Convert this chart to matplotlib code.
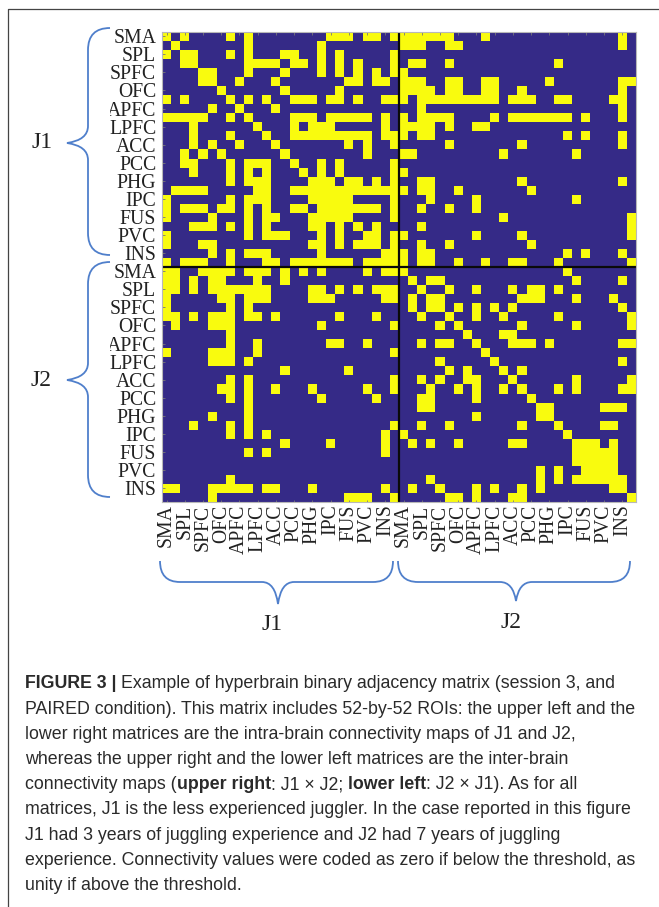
import matplotlib
matplotlib.use("Agg")
import matplotlib.pyplot as plt
import numpy as np
from matplotlib.colors import ListedColormap
from matplotlib.path import Path
from matplotlib.patches import PathPatch, Rectangle

rois = ["SMA", "SPL", "SPFC", "OFC", "APFC", "LPFC", "ACC", "PCC", "PHG", "IPC", "FUS", "PVC", "INS"]

# columns that are 1 in each row, one list per block
j1_j1 = [
    [0, 2, 7, 9, 18, 19, 20, 22, 23, 25],
    [1, 9, 17],
    [0, 2, 3, 7, 9, 13, 14, 17, 19, 25],
    [2, 3, 9, 10, 11, 12, 14, 15, 17, 19, 21, 25],
    [4, 5, 9, 13, 17, 19, 21, 23, 25],
    [4, 5, 8, 12, 20, 21, 23, 24],
    [6, 13, 19],
    [0, 2, 7, 9, 11, 14, 15, 16, 18, 19, 21, 24, 25],
    [5, 8, 12],
    [0, 1, 2, 3, 4, 7, 9, 14, 15, 16, 18, 19, 20, 21, 22, 24],
    [3, 10, 14, 16, 17, 18, 24],
    [3, 7, 11, 14, 15, 16, 17, 18, 19, 20, 21, 22, 24, 25],
    [3, 5, 8, 12, 20, 22, 25],
    [2, 4, 6, 13, 22],
    [2, 3, 7, 9, 10, 11, 14, 17, 19, 25],
    [3, 7, 9, 11, 15, 17, 19, 25],
    [7, 9, 10, 11, 16, 17, 18, 20, 21, 23, 25],
    [1, 2, 3, 4, 10, 11, 14, 15, 16, 17, 18, 19, 20, 21, 22, 23, 24, 25],
    [0, 7, 9, 10, 11, 16, 17, 18, 19, 20, 25],
    [0, 2, 3, 4, 6, 7, 9, 11, 14, 15, 17, 18, 19, 20, 21, 22, 23, 25],
    [0, 5, 9, 11, 12, 16, 17, 18, 19, 20, 25],
    [3, 4, 5, 7, 9, 11, 16, 17, 19, 21, 23],
    [0, 9, 11, 12, 13, 17, 19, 22, 23, 25],
    [0, 4, 5, 16, 17, 19, 21, 22, 23, 25],
    [5, 7, 9, 10, 11, 17, 24, 25],
    [0, 2, 3, 4, 7, 11, 12, 14, 15, 16, 17, 18, 19, 20, 22, 23, 24, 25],
]
j1_j2 = [
    [0, 1, 2, 3, 4, 5, 9, 24],
    [0, 1, 2, 5, 6, 24],
    [],
    [1, 2, 5, 17],
    [0],
    [0, 1, 2, 5, 6, 9, 10, 16, 24, 25],
    [0, 1, 2, 3, 5, 6, 9, 10, 13, 24],
    [0, 2, 3, 4, 5, 6, 7, 8, 9, 10, 12, 13, 14, 17, 18, 23, 24],
    [2, 24],
    [0, 2, 3, 4, 5, 10, 12, 13, 14, 15, 16, 17, 18, 20, 24],
    [0, 1, 2, 3, 5, 8, 9],
    [0, 2, 3, 18, 20, 24],
    [5, 13, 24],
    [0, 1, 11, 19],
    [],
    [0],
    [2, 3, 13, 24],
    [0, 2, 3, 6, 14],
    [3, 8, 19],
    [2, 5, 8],
    [11, 25],
    [2, 25],
    [0, 8, 13, 25],
    [2, 5, 14],
    [0, 2, 3, 18, 20, 24],
    [0, 2, 3, 6, 9, 12, 13, 17, 25],
]
j2_j1 = [
    [0, 1, 4, 5, 6, 7, 9, 10, 11, 13, 15, 17, 22, 24, 25],
    [0, 1, 3, 5, 6, 10, 13],
    [0, 1, 3, 5, 6, 7, 8, 9, 10, 11, 16, 17, 19, 21, 23, 24, 25],
    [0, 6, 7, 9, 10, 11, 16, 17, 18, 24, 25],
    [0, 7, 9],
    [0, 1, 3, 5, 6, 7, 9, 10, 12, 19, 23],
    [1, 5, 6, 7, 17, 25],
    [7],
    [7, 10, 18, 19, 22],
    [0, 5, 6, 7, 10, 25],
    [5, 6, 7, 9],
    [13, 20],
    [7, 9, 25],
    [6, 7, 9, 12, 16, 22, 25],
    [7, 9, 17, 23],
    [9],
    [5, 9],
    [3, 7, 9, 25],
    [7, 9, 11, 24],
    [13, 18, 24],
    [9, 11, 24],
    [],
    [],
    [7],
    [0, 1, 5, 6, 7, 8, 9, 11, 12, 16, 24],
    [5, 20, 21, 22, 25],
]
j2_j2 = [
    [0, 18],
    [1, 3, 4, 19, 24],
    [2, 5, 8, 12, 14, 15, 17],
    [1, 3, 4, 13, 14, 15, 19, 23],
    [1, 3, 4, 6, 8, 10, 12, 24],
    [2, 5, 8, 11, 17, 25],
    [4, 6, 13, 19, 25],
    [7, 11, 12],
    [2, 4, 5, 8, 12, 13, 14, 16, 24, 25],
    [9],
    [4, 10, 24],
    [5, 7, 11, 13],
    [2, 4, 7, 8, 12, 19, 25],
    [3, 6, 8, 11, 13, 17, 19, 24, 25],
    [2, 3, 8, 14],
    [2, 3, 15, 16, 22, 23, 24],
    [8, 15, 16],
    [2, 5, 13, 17, 22, 23],
    [0, 18],
    [1, 3, 6, 12, 13, 19, 20, 21, 23],
    [19, 20, 21, 22, 23],
    [19, 20, 21, 22, 23],
    [15, 17, 20, 21, 22, 23],
    [3, 15, 17, 19, 20, 21, 22, 23, 24],
    [1, 4, 8, 10, 13, 15, 23, 24],
    [5, 6, 8, 12, 13, 25],
]

caption = [
    [("FIGURE 3 | ", True), ("Example of hyperbrain binary adjacency matrix (session 3, and", False)],
    [("PAIRED condition). This matrix includes 52-by-52 ROIs: the upper left and the", False)],
    [("lower right matrices are the intra-brain connectivity maps of J1 and J2,", False)],
    [("whereas the upper right and the lower left matrices are the inter-brain", False)],
    [("connectivity maps (", False), ("upper right", True), (": J1 × J2; ", False), ("lower left", True),
     (": J2 × J1). As for all", False)],
    [("matrices, J1 is the less experienced juggler. In the case reported in this figure", False)],
    [("J1 had 3 years of juggling experience and J2 had 7 years of juggling", False)],
    [("experience. Connectivity values were coded as zero if below the threshold, as", False)],
    [("unity if above the threshold.", False)],
]

n = 26
mat = np.zeros((2 * n, 2 * n))
for off_r, off_c, block in [(0, 0, j1_j1), (0, n, j1_j2), (n, 0, j2_j1), (n, n, j2_j2)]:
    for r, cols in enumerate(block):
        for c in cols:
            mat[off_r + r, off_c + c] = 1

W, H = 659, 907
fig = plt.figure(figsize=(W / 100, H / 100), dpi=100)
ax = fig.add_axes([162 / W, (H - 501.7) / H, 474 / W, 470 / H])
ax.imshow(mat, cmap=ListedColormap(["#352a87", "#f9fb0e"]), vmin=0, vmax=1,
          interpolation="nearest", aspect="auto")
ax.axvline(n - 0.5, color="#0a0a0a", lw=1.6)
ax.axhline(n - 0.5, color="#0a0a0a", lw=1.6)

ticks = list(range(0, 2 * n, 2))
ax.set_xticks(ticks)
ax.set_yticks(ticks)
ax.set_xticklabels(rois + rois, rotation=90, ha="center", va="top",
                   family="Liberation Serif", size=14.2, color="#222222")
ax.set_yticklabels(rois + rois, family="Liberation Serif", size=14.2, color="#222222")
ax.tick_params(direction="in", length=1.8, width=0.6, color="#777777", top=True, left=True,
               bottom=True, right=False, pad=4.2)
ax.tick_params(axis="x", pad=2)
for s in ax.spines.values():
    s.set_color("#b8b8b8")
    s.set_linewidth(0.8)

# overlay in picture pixels for frame, braces, names and caption
ov = fig.add_axes([0, 0, 1, 1], zorder=5)
ov.set_xlim(0, W)
ov.set_ylim(H, 0)
ov.axis("off")
ov.patch.set_alpha(0)
ov.add_patch(Rectangle((100, 100), 10, 18, fc="white", ec="none"))
ov.add_patch(Rectangle((100, 336), 10, 18, fc="white", ec="none"))
ov.plot([8, 8, W], [H, 9, 9], color="#444444", lw=0.9)


def brace(tip, start, end, vertical):
    # curly brace from start to end with its point at tip
    a, b, t = start, end, tip
    if vertical:
        x0 = a[0] - 22
        m = t[1]
        v = [(a[0], a[1]), (x0, a[1]), (x0, a[1] + 22), (x0, m - 17), (x0, m - 3), t,
             (x0, m + 3), (x0, m + 17), (x0, b[1] - 22), (x0, b[1]), (b[0], b[1])]
    else:
        y0 = a[1] + 21
        m = t[0]
        v = [(a[0], a[1]), (a[0], y0), (a[0] + 20, y0), (m - 16, y0), (m - 3, y0), t,
             (m + 3, y0), (m + 16, y0), (b[0] - 20, y0), (b[0], y0), (b[0], b[1])]
    codes = [Path.MOVETO, Path.CURVE3, Path.CURVE3, Path.LINETO, Path.CURVE3, Path.CURVE3,
             Path.CURVE3, Path.CURVE3, Path.LINETO, Path.CURVE3, Path.CURVE3]
    ov.add_patch(PathPatch(Path(v, codes), fc="none", ec="#4f7fcb", lw=1.3))


brace((67, 143), (110, 28), (110, 255), True)
brace((67, 380), (110, 262), (110, 497), True)
brace((278, 604), (160, 561), (393, 561), False)
brace((516, 601), (398, 561), (630, 561), False)

for x, y, s in [(42, 142, "J1"), (41, 380, "J2"), (272, 625, "J1"), (511, 623, "J2")]:
    ov.text(x, y, s, family="Liberation Serif", size=17, color="#222222", ha="center", va="center")

# caption lines are built from plain and bold pieces
renderer = fig.canvas.get_renderer()
for i, line in enumerate(caption):
    x = 25
    y = 684 + 25.2 * i
    for s, bold in line:
        t = ov.text(x, y, s, family="Liberation Sans", size=12.8, color="#2a2a2a", ha="left",
                    va="center", weight="bold" if bold else "normal")
        x = ov.transData.inverted().transform(t.get_window_extent(renderer).get_points())[1, 0]

fig.savefig("out.png", dpi=100)
